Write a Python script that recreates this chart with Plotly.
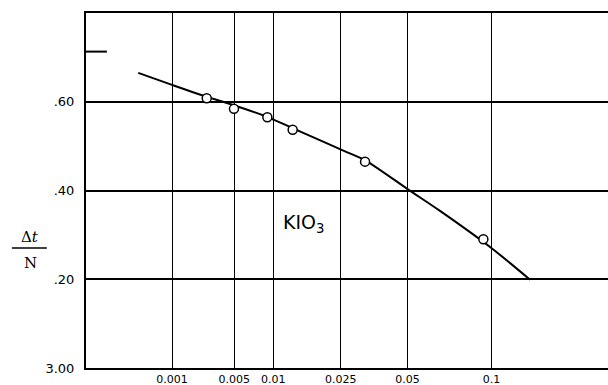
import numpy as np
import plotly.graph_objects as go

# Measured points: concentration and Δt/N
point_conc = [0.00272, 0.00497, 0.00909, 0.01341, 0.0328, 0.0942]
point_val = [0.608, 0.584, 0.565, 0.537, 0.465, 0.290]

# Smooth curve through the data
curve_conc = [0.000233, 0.001, 0.002719, 0.003956, 0.009041, 0.013476,
              0.02697, 0.03314, 0.05075, 0.06672, 0.09973, 0.13126]
curve_val = [0.665, 0.638, 0.611, 0.600, 0.566, 0.540,
             0.486, 0.467, 0.401, 0.354, 0.271, 0.199]

# Axis ticks
x_tick_conc = [0.001, 0.005, 0.01, 0.025, 0.05, 0.1]
x_tick_text = ["0.001", "0.005", "0.01", "0.025", "0.05", "0.1"]
y_tick_vals = [0.0, 0.2, 0.4, 0.6]
y_tick_text = ["3.00", ".20", ".40", ".60"]
short_tick_y = [0.713]

x_range_conc = [7.3e-9, 0.2129]
y_range = [0.0, 0.80]

label_text = "KIO<sub>3</sub>"
label_pos = [0.0158, 0.325]

def scale(c):
    return np.cbrt(np.asarray(c, dtype=float))

fig = go.Figure()
fig.add_trace(go.Scatter(
    x=scale(curve_conc), y=curve_val, mode="lines",
    line=dict(color="black", width=2, shape="spline", smoothing=0.8),
    hoverinfo="skip", showlegend=False))
fig.add_trace(go.Scatter(
    x=scale(point_conc), y=point_val, mode="markers",
    marker=dict(symbol="circle", size=9, color="white",
                line=dict(color="black", width=1.5)),
    showlegend=False))

fig.add_annotation(x=float(scale([label_pos[0]])[0]), y=label_pos[1], xref="x", yref="y",
                   text=label_text, showarrow=False, xanchor="center", yanchor="middle",
                   font=dict(family="DejaVu Sans", size=19, color="black"))

# y-axis title as a fraction
fig.add_annotation(x=-0.107, y=0.369, xref="paper", yref="paper", text="Δ<i>t</i>",
                   showarrow=False, xanchor="center", yanchor="middle",
                   font=dict(family="DejaVu Serif", size=15, color="black"))
fig.add_annotation(x=-0.107, y=0.296, xref="paper", yref="paper", text="N",
                   showarrow=False, xanchor="center", yanchor="middle",
                   font=dict(family="DejaVu Serif", size=15, color="black"))
fig.add_shape(type="line", xref="paper", yref="paper", x0=-0.142, x1=-0.075,
              y0=0.338, y1=0.338, line=dict(color="black", width=1.5))

for yv in short_tick_y:
    fig.add_shape(type="line", xref="x domain", yref="y", x0=0, x1=0.04,
                  y0=yv, y1=yv, line=dict(color="black", width=2))

fig.update_xaxes(
    range=[float(v) for v in scale(x_range_conc)],
    tickvals=scale(x_tick_conc), ticktext=x_tick_text,
    showgrid=True, gridcolor="black", gridwidth=1,
    showline=True, linecolor="black", linewidth=2, mirror=True,
    ticks="", zeroline=False,
    tickfont=dict(family="DejaVu Sans", size=11, color="black"))
fig.update_yaxes(
    range=y_range, tickvals=y_tick_vals, ticktext=y_tick_text,
    showgrid=True, gridcolor="black", gridwidth=1.5,
    showline=True, linecolor="black", linewidth=2, mirror=False,
    ticks="", zeroline=False, ticklabelstandoff=7,
    tickfont=dict(family="DejaVu Sans", size=13, color="black"))

fig.update_layout(
    width=608, height=385,
    margin=dict(l=86, r=0, t=13, b=17, autoexpand=False),
    plot_bgcolor="white", paper_bgcolor="white",
    showlegend=False)

fig.write_html("out.html", config={"displayModeBar": False},
               post_script="document.body.style.margin='0';document.body.style.overflow='hidden';")
